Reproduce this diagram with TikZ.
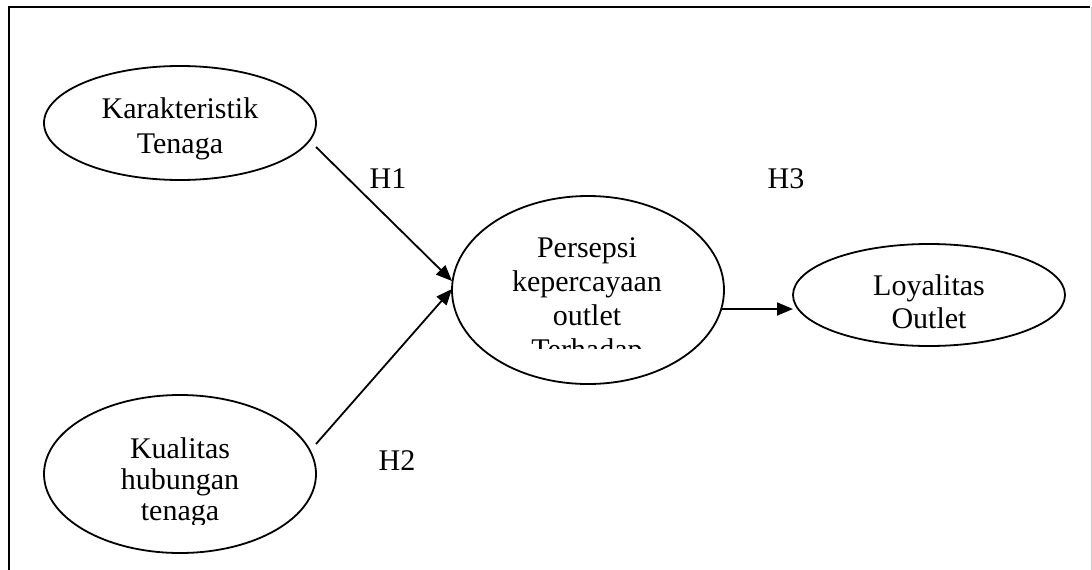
\documentclass[tikz,border=0pt]{standalone}
\usepackage{fontspec}
\setmainfont{Liberation Serif}
\usetikzlibrary{shapes.geometric,arrows.meta}
\begin{document}
\begin{tikzpicture}[x=1pt,y=-1pt,
  construct/.style={draw,ellipse,line width=1.8pt,inner sep=0pt},
  label text/.style={font=\fontsize{30}{34}\selectfont,align=center,anchor=base,inner sep=0pt},
  hyp/.style={font=\fontsize{30}{34}\selectfont,anchor=base,inner sep=0pt},
  link/.style={line width=1.8pt,-{Triangle[length=16pt,width=13pt]}}]
\useasboundingbox (0,0) rectangle (1092,570);
\fill[white] (0,0) rectangle (1092,570);
% outer frame (bottom edge runs off the page)
\draw[line width=2.4pt] (9,600) -- (9,7) -- (1090,7);
\draw[line width=1pt,black!20] (1091,7) -- (1091,600);

% constructs
\node[construct,minimum width=272pt,minimum height=114pt] (kt) at (180,123) {};
\node[construct,minimum width=272pt,minimum height=158pt] (kh) at (180,474) {};
\node[construct,minimum width=272pt,minimum height=188pt] (pk) at (588,290) {};
\node[construct,minimum width=272pt,minimum height=102pt] (lo) at (929,295) {};

% construct names (anchored on the baseline of the last line)
\node[label text,font=\fontsize{30}{35}\selectfont] (ktt) at (180,153) {Karakteristik\\Tenaga};
\begin{scope}
  \clip (40,400) rectangle (320,524);
  \node[label text,font=\fontsize{30}{31}\selectfont] (kht) at (180,520) {Kualitas\\hubungan\\tenaga};
\end{scope}
\begin{scope}
  \clip (450,200) rectangle (725,348);
  \node[label text,font=\fontsize{30}{34}\selectfont] (pkt) at (587,359) {Persepsi\\kepercayaan\\outlet\\Terhadap};
\end{scope}
\node[label text,font=\fontsize{30}{33}\selectfont] (lot) at (929,328) {Loyalitas\\Outlet};

% paths
\coordinate (h1s) at (316,147);
\coordinate (h1e) at (452,281);
\coordinate (h2s) at (316,444);
\coordinate (h2e) at (452,289);
\coordinate (h3s) at (722,309);
\coordinate (h3e) at (793,309);
\draw[link] (h1s) -- (h1e);
\draw[link] (h2s) -- (h2e);
\draw[link] (h3s) -- (h3e);

% hypothesis labels
\node[hyp] (H1) at (388,188) {H1};
\node[hyp] (H2) at (397,470) {H2};
\node[hyp] (H3) at (786,188) {H3};
\end{tikzpicture}
\end{document}
